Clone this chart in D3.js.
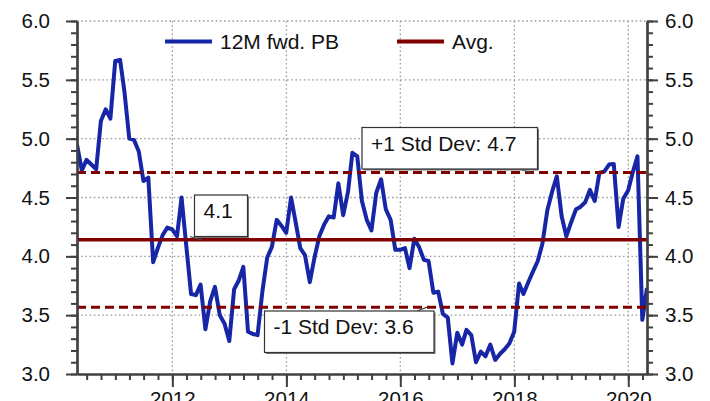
<!DOCTYPE html>
<html>
<head>
<meta charset="utf-8">
<script src="https://cdn.jsdelivr.net/npm/d3@7"></script>
<style>
  html, body { margin: 0; padding: 0; background: #fff; }
  svg { display: block; font-family: "Liberation Sans", Arial, sans-serif; }
</style>
</head>
<body>
<svg id="chart" width="710" height="401"></svg>
<script>
// Monthly 12-month forward P/B, month-ends from Apr 2010 to Apr 2020
const startYear = 2010;
const startMonth = 4; // April
const pbValues = [
  4.95, 4.73, 4.82, 4.78, 4.74, 5.15, 5.25, 5.17, 5.66, 5.67,
  5.40, 5.00, 4.99, 4.89, 4.64, 4.67, 3.95, 4.07, 4.18, 4.245,
  4.23, 4.17, 4.50, 4.08, 3.68, 3.67, 3.76, 3.38, 3.62, 3.74,
  3.50, 3.43, 3.28, 3.72, 3.79, 3.91, 3.36, 3.34, 3.33, 3.70,
  3.99, 4.08, 4.31, 4.26, 4.20, 4.50, 4.30, 4.07, 4.01, 3.78,
  3.99, 4.17, 4.27, 4.34, 4.33, 4.62, 4.35, 4.55, 4.88, 4.85,
  4.47, 4.31, 4.22, 4.54, 4.655, 4.40, 4.31, 4.055, 4.055, 4.07,
  3.90, 4.15, 4.08, 3.97, 3.96, 3.69, 3.70, 3.51, 3.48, 3.09,
  3.35, 3.25, 3.375, 3.33, 3.10, 3.19, 3.15, 3.25, 3.12, 3.17,
  3.21, 3.26, 3.36, 3.77, 3.68, 3.78, 3.87, 3.96, 4.11, 4.39,
  4.55, 4.68, 4.34, 4.17, 4.29, 4.40, 4.42, 4.46, 4.565, 4.47,
  4.71, 4.72, 4.78, 4.785, 4.25, 4.49, 4.56, 4.72, 4.85, 3.46,
  3.73
];
const avgValue = 4.14;
const stdValue = 0.572;

const yTickValues = [3.0, 3.5, 4.0, 4.5, 5.0, 5.5, 6.0];
const xTickYears = [2012, 2014, 2016, 2018, 2020];
const legendLabels = ["12M fwd. PB", "Avg."];

const COLOR_LINE = "#1626a6";
const COLOR_AVG = "#800000";
const COLOR_AXIS = "#404040";
const COLOR_GRID = "#9a9a9a";

// month-end dates
const dates = pbValues.map((_, i) => new Date(startYear, startMonth - 1 + i + 1, 0));
const data = dates.map((d, i) => ({ date: d, value: pbValues[i] }));

const svg = d3.select("#chart");
const plotLeft = 77, plotRight = 647, plotTop = 21, plotBottom = 374;

const x = d3.scaleTime().domain([dates[0], dates[dates.length - 1]]).range([plotLeft, plotRight]);
const y = d3.scaleLinear().domain([3, 6]).range([plotBottom, plotTop]);

const fmt1 = d3.format(".1f");

// gridlines
const grid = svg.append("g").attr("stroke", COLOR_GRID).attr("stroke-width", 1.3)
  .attr("stroke-dasharray", "1.6,2.6").attr("fill", "none");
grid.selectAll("line.h").data(yTickValues.filter(v => v > 3)).join("line")
  .attr("x1", plotLeft).attr("x2", plotRight)
  .attr("y1", d => y(d)).attr("y2", d => y(d));
grid.selectAll("line.v").data(xTickYears).join("line")
  .attr("x1", d => x(new Date(d, 0, 1))).attr("x2", d => x(new Date(d, 0, 1)))
  .attr("y1", plotTop).attr("y2", plotBottom);

// P/B line
svg.append("defs").append("clipPath").attr("id", "plotclip")
  .append("rect").attr("x", plotLeft).attr("y", plotTop - 5)
  .attr("width", plotRight - plotLeft).attr("height", plotBottom - plotTop + 5);

svg.append("path")
  .datum(data)
  .attr("clip-path", "url(#plotclip)")
  .attr("fill", "none")
  .attr("stroke", COLOR_LINE)
  .attr("stroke-width", 4)
  .attr("stroke-linejoin", "round")
  .attr("d", d3.line().x(d => x(d.date)).y(d => y(d.value)));

// average and +/- 1 std dev lines
const bands = [
  { value: avgValue, dash: null, width: 3.5 },
  { value: avgValue + stdValue, dash: "9,5", width: 3 },
  { value: avgValue - stdValue, dash: "9,5", width: 3 }
];
svg.selectAll("line.band").data(bands).join("line")
  .attr("class", "band")
  .attr("x1", plotLeft).attr("x2", plotRight)
  .attr("y1", d => y(d.value)).attr("y2", d => y(d.value))
  .attr("stroke", COLOR_AVG)
  .attr("stroke-width", d => d.width)
  .attr("stroke-dasharray", d => d.dash);

// axes
function styleAxis(g) {
  g.selectAll("path.domain").attr("stroke", COLOR_AXIS).attr("stroke-width", 2.2);
  g.selectAll(".tick line").attr("stroke", COLOR_AXIS).attr("stroke-width", 2);
  g.selectAll(".tick text").attr("fill", "#111").style("font-size", "20.5px")
    .style("font-family", "'Liberation Sans', Arial, sans-serif");
}
const minorY = d3.range(30, 61).map(v => v / 10);

svg.append("g").attr("transform", `translate(${plotLeft},0)`)
  .call(d3.axisLeft(y).tickValues(minorY).tickSize(6).tickFormat("").tickSizeOuter(0))
  .call(styleAxis);
svg.append("g").attr("transform", `translate(${plotLeft},0)`)
  .call(d3.axisLeft(y).tickValues(yTickValues).tickSize(11).tickPadding(16).tickFormat(fmt1).tickSizeOuter(0))
  .call(styleAxis);

svg.append("g").attr("transform", `translate(${plotRight},0)`)
  .call(d3.axisRight(y).tickValues(minorY).tickSize(6).tickFormat("").tickSizeOuter(0))
  .call(styleAxis);
svg.append("g").attr("transform", `translate(${plotRight},0)`)
  .call(d3.axisRight(y).tickValues(yTickValues).tickSize(11).tickPadding(7).tickFormat(fmt1).tickSizeOuter(0))
  .call(styleAxis);

const quarterTicks = d3.timeMonth.every(3).range(new Date(2010, 6, 1), new Date(2020, 4, 1));
svg.append("g").attr("transform", `translate(0,${plotBottom})`)
  .call(d3.axisBottom(x).tickValues(quarterTicks).tickSize(6).tickFormat("").tickSizeOuter(0))
  .call(styleAxis);
svg.append("g").attr("transform", `translate(0,${plotBottom})`)
  .call(d3.axisBottom(x).tickValues(xTickYears.map(yr => new Date(yr, 0, 1)))
    .tickSize(13).tickPadding(4).tickFormat(d3.timeFormat("%Y")).tickSizeOuter(0))
  .call(styleAxis);

// legend
const legend = svg.append("g");
const legendItems = [
  { label: legendLabels[0], color: COLOR_LINE, x0: 165, width: 4 },
  { label: legendLabels[1], color: COLOR_AVG, x0: 397, width: 4 }
];
legendItems.forEach(it => {
  legend.append("line").attr("x1", it.x0).attr("x2", it.x0 + 47)
    .attr("y1", 41.5).attr("y2", 41.5)
    .attr("stroke", it.color).attr("stroke-width", it.width);
  legend.append("text").attr("x", it.x0 + 55).attr("y", 48.5)
    .attr("fill", "#111").style("font-size", "21px").text(it.label);
});

// value callouts
const callouts = [
  { text: fmt1(avgValue), value: avgValue, bx: 194.5, by: 195, bw: 53, bh: 41.5, px: 202 },
  { text: "+1 Std Dev: " + fmt1(avgValue + stdValue), value: avgValue + stdValue, bx: 362, by: 127.5, bw: 175.5, bh: 41.5, px: 531 },
  { text: "-1 Std Dev: " + fmt1(avgValue - stdValue), value: avgValue - stdValue, bx: 264.5, by: 311, bw: 169.5, bh: 41.5, px: 427 }
];
const co = svg.append("g");
callouts.forEach(c => {
  const ly = y(c.value);
  const below = c.by > ly;
  const edgeY = below ? c.by : c.by + c.bh;
  co.append("line")
    .attr("x1", below ? c.px - 10 : c.px - 12).attr("y1", edgeY)
    .attr("x2", c.px).attr("y2", ly)
    .attr("stroke", "#444").attr("stroke-width", 1.2);
  co.append("rect").attr("x", c.bx + 1.5).attr("y", c.by + 1.5)
    .attr("width", c.bw).attr("height", c.bh).attr("fill", "#777");
  co.append("rect").attr("x", c.bx).attr("y", c.by)
    .attr("width", c.bw).attr("height", c.bh)
    .attr("fill", "#fff").attr("stroke", "#333").attr("stroke-width", 1.2);
  co.append("text").attr("x", c.bx + 9).attr("y", c.by + 23)
    .attr("fill", "#111").style("font-size", "21px").text(c.text);
});
</script>
</body>
</html>
